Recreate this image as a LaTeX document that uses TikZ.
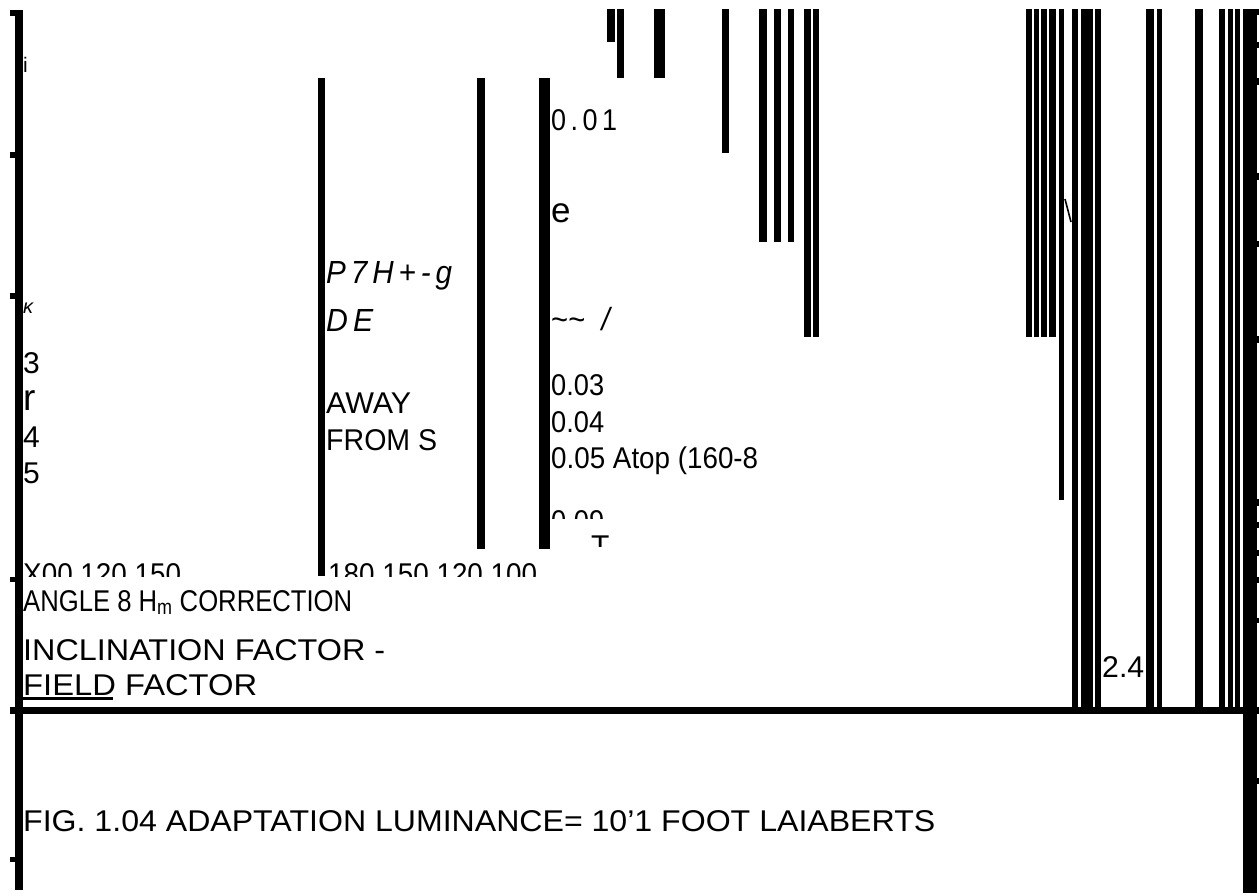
\documentclass[tikz,border=0pt]{standalone}
\usepackage{fontspec}
\setmainfont{Liberation Sans}
\usepackage{graphicx}
\newcommand{\fitw}[2]{\resizebox{#1pt}{\height}{#2}}
\begin{document}
\begin{tikzpicture}[x=1pt,y=-1pt,
  bar/.style={fill=black},
  txt/.style={anchor=base west, inner sep=0pt, font=\fontsize{30}{36}\selectfont},
  smalltxt/.style={anchor=base west, inner sep=0pt, font=\fontsize{21}{25}\selectfont}]
\useasboundingbox[fill=white] (0,0) rectangle (1259,895);
% left frame
\fill[bar] (15,10) rectangle (23,890);
\foreach \ya/\yb in {10/16,152/158,293/299,577/582,857/862}
  \fill[bar] (10,\ya) rectangle (23,\yb);
% horizontal line
\fill[bar] (10,707) rectangle (1259,714);
% middle bars
\fill[bar] (318,78) rectangle (325,576);
\fill[bar] (477,78) rectangle (485,549);
\fill[bar] (539,78) rectangle (550,549);
% top short bars
\foreach \xa/\xb/\yb in {607/615/42,617/624/78,654/665/78,722/729/153,759/767/242,774/781/242,788/794/242,804/811/337,813/819/337}
  \fill[bar] (\xa,9) rectangle (\xb,\yb);
% right cluster
\foreach \xa/\xb/\yb in {1026/1032/337,1034/1039/337,1041/1047/337,1049/1056/337,1059/1064/500,1072/1078/707,1081/1093/707,1095/1101/707,1146/1154/707,1157/1162/707,1195/1203/707,1219/1225/707,1228/1233/707,1235/1240/707}
  \fill[bar] (\xa,9) rectangle (\xb,\yb);
\fill[bar] (1243,9) rectangle (1257,893);
\foreach \ya/\yb in {9/15,42/48,78/85,173/180,241/247,336/343,499/506,522/528,550/556,577/583,618/623,778/784}
  \fill[bar] (1243,\ya) rectangle (1259,\yb);
\draw[line width=1.6pt] (1065,199) -- (1071,222);
% texts
\node[smalltxt] (ti) at (23,72) {i};
\node[smalltxt, font=\fontsize{20}{24}\selectfont\itshape] (tk) at (23,313) {κ};
\node[txt] (t3) at (23,373) {3};
\node[txt, font=\fontsize{37}{44}\selectfont] (tr) at (23,410) {r};
\node[txt] (t4) at (23,447) {4};
\node[txt] (t5) at (23,483) {5};
\node[txt, font=\fontsize{32}{38}\selectfont\itshape] (tp) at (326,283) {\fitw{126}{P\,7\,H\,+\,-\,g}};
\node[txt, font=\fontsize{32}{38}\selectfont\itshape] (tde) at (326,331) {\fitw{47}{D\,E}};
\node[txt] (taway) at (326,413) {\fitw{85}{AWAY}};
\node[txt] (tfrom) at (326,450) {\fitw{111}{FROM S}};
\node[txt] (t001) at (551,130) {\fitw{66}{0\,.\,0\,1}};
\node[txt, font=\fontsize{35}{42}\selectfont] (te) at (551,222) {e};
\node[txt, font=\fontsize{32}{38}\selectfont] (ttil) at (551,330) {\fitw{61}{\textasciitilde\textasciitilde\ \ \textit{/}}};
\node[txt] (t003) at (551,395) {\fitw{53}{0.03}};
\node[txt] (t004) at (551,432) {\fitw{53}{0.04}};
\node[txt] (t005) at (551,468) {\fitw{207}{0.05 Atop (160-8}};
\begin{scope}
\clip (540,500) rectangle (640,518);
\node[txt] (t009) at (551,531.5) {\fitw{53}{0.09}};
\end{scope}
\begin{scope}
\clip (580,530) rectangle (640,546);
\node[txt] (tT) at (591,556.5) {T};
\end{scope}
\begin{scope}
\clip (20,555) rectangle (560,576);
\node[txt] (tx00) at (23,584.5) {\fitw{158}{X00 120 150}};
\node[txt] (t180) at (328,584.5) {\fitw{209}{180 150 120 100}};
\end{scope}
\node[txt] (tangle) at (23,611) {\fitw{329}{ANGLE 8 H\textsubscript{m} CORRECTION}};
\node[txt] (tincl) at (23,660) {\fitw{362}{INCLINATION FACTOR -}};
\node[txt] (tfield) at (23,695) {\fitw{234}{FIELD FACTOR}};
\fill[bar] (23,697) rectangle (113,700);
\node[txt] (t24) at (1102,677) {\fitw{42}{2.4}};
\node[txt] (tfig) at (23,831) {\fitw{912}{FIG. 1.04 ADAPTATION LUMINANCE= 10'1 FOOT LAIABERTS}};
\end{tikzpicture}
\end{document}
